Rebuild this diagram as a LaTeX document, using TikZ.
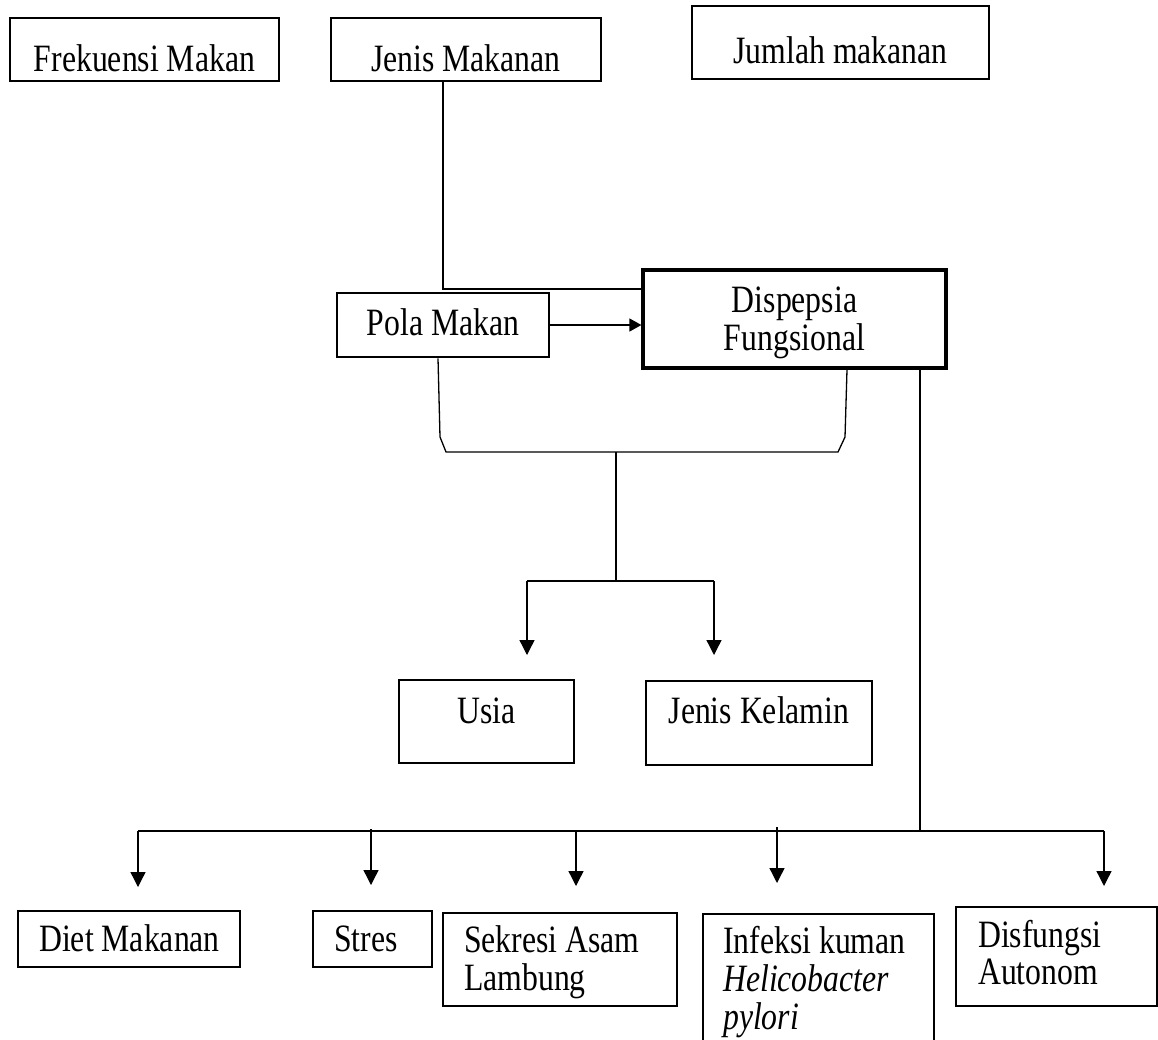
\documentclass[tikz,border=0pt]{standalone}
\usepackage{fontspec}
\setmainfont{Liberation Serif}[FakeStretch=0.82]
\usetikzlibrary{arrows.meta}
\begin{document}
\begin{tikzpicture}[x=1pt,y=-1pt,
 thickbox/.style={draw=black, line width=2.7pt, inner sep=0pt},
 thinbox/.style={draw=black, line width=1.2pt, inner sep=0pt},
 txt/.style={inner sep=0pt, font=\fontsize{38.7pt}{37.5pt}\selectfont},
 conn/.style={draw=black, line width=1.3pt},
 arr/.style={conn, -{Triangle[length=15pt,width=15pt]}},
]
\useasboundingbox (0,0) rectangle (1158,1039);

% boxes
\node[thickbox, minimum width=269pt, minimum height=63pt] (frek) at (144.5,49.5) {};
\node[thickbox, minimum width=270pt, minimum height=63pt] (jenis) at (466,49.5) {};
\node[thickbox, minimum width=297pt, minimum height=73pt] (jumlah) at (840.5,42.5) {};
\node[thickbox, minimum width=212pt, minimum height=64pt] (pola) at (443,325) {};
\node[thickbox, line width=3.2pt, minimum width=303pt, minimum height=98pt] (disp) at (794.5,319) {};
\node[thickbox, minimum width=175pt, minimum height=83pt] (usia) at (486.5,721.5) {};
\node[thickbox, minimum width=226pt, minimum height=84pt] (kel) at (759,723) {};
\node[thinbox, minimum width=222pt, minimum height=56pt] (diet) at (129,939) {};
\node[thinbox, minimum width=119pt, minimum height=56pt] (stres) at (372.5,939) {};
\node[thinbox, minimum width=234pt, minimum height=93pt] (sekresi) at (560,959.5) {};
\node[thinbox, minimum width=231pt, minimum height=146pt] (infeksi) at (818.5,987) {};
\node[thinbox, minimum width=201pt, minimum height=99pt] (disf) at (1056.5,956.5) {};

% texts
\node[txt, anchor=base] (tfrek) at (144.5,71) {Frekuensi Makan};
\node[txt, anchor=base] (tjenis) at (466,71) {Jenis Makanan};
\node[txt, anchor=base] (tjumlah) at (840.5,63) {Jumlah makanan};
\node[txt, anchor=base] (tpola) at (443,335) {Pola Makan};
\node[txt, anchor=base] (tdisp) at (794.5,312) {\begin{tabular}[t]{@{}c@{}}Dispepsia\\Fungsional\end{tabular}};
\node[txt, anchor=base] (tusia) at (486.5,723) {Usia};
\node[txt, anchor=base] (tkel) at (759,723) {Jenis Kelamin};
\node[txt, anchor=base west] (tdiet) at (39,951) {Diet Makanan};
\node[txt, anchor=base west] (tstres) at (334,951) {Stres};
\node[txt, anchor=base west] (tsekresi) at (464,952) {\begin{tabular}[t]{@{}l@{}}Sekresi Asam\\Lambung\end{tabular}};
\node[txt, anchor=base west] (tinfeksi) at (723,953) {\begin{tabular}[t]{@{}l@{}}Infeksi kuman\\\textit{Helicobacter}\\\textit{pylori}\end{tabular}};
\node[txt, anchor=base west] (tdisf) at (978,947) {\begin{tabular}[t]{@{}l@{}}Disfungsi\\Autonom\end{tabular}};

% connectors
\coordinate (jm) at (443,289);
\draw[conn] (jenis.south -| jm) -- (jm) -- (jm -| disp.west);
\draw[conn, -{Triangle[length=12pt,width=13pt]}] (pola.east) -- (pola.east -| disp.west);

\coordinate (bl) at (438,437);
\coordinate (br) at (847,437);
\coordinate (bm) at (616,452);
\draw[conn] (pola.south -| bl) -- (440,437) -- (446,452) -- (838,452) -- (845,437) -- (disp.south -| br);

\coordinate (um) at (616,581);
\coordinate (ua) at (527,581);
\coordinate (ka) at (714,581);
\coordinate (usiaTip) at (527,655);
\coordinate (kelTip) at (714,655);
\draw[conn] (bm) -- (um);
\draw[conn] (ua) -- (ka);
\draw[arr] (ua) -- (usiaTip);
\draw[arr] (ka) -- (kelTip);

\coordinate (dd) at (920,831);
\draw[conn] (disp.south -| dd) -- (dd);
\coordinate (hl) at (138,831);
\coordinate (hr) at (1104,831);
\draw[conn] (hl) -- (hr);

\coordinate (dietTip) at (138,887);
\coordinate (stresTop) at (371,829);
\coordinate (stresTip) at (371,885);
\coordinate (sekTop) at (576,831);
\coordinate (sekTip) at (576,886);
\coordinate (infTop) at (777,827);
\coordinate (infTip) at (777,883);
\coordinate (disfTip) at (1104,886);
\draw[arr] (hl) -- (dietTip);
\draw[arr] (stresTop) -- (stresTip);
\draw[arr] (sekTop) -- (sekTip);
\draw[arr] (infTop) -- (infTip);
\draw[arr] (hr) -- (disfTip);
\end{tikzpicture}
\end{document}
